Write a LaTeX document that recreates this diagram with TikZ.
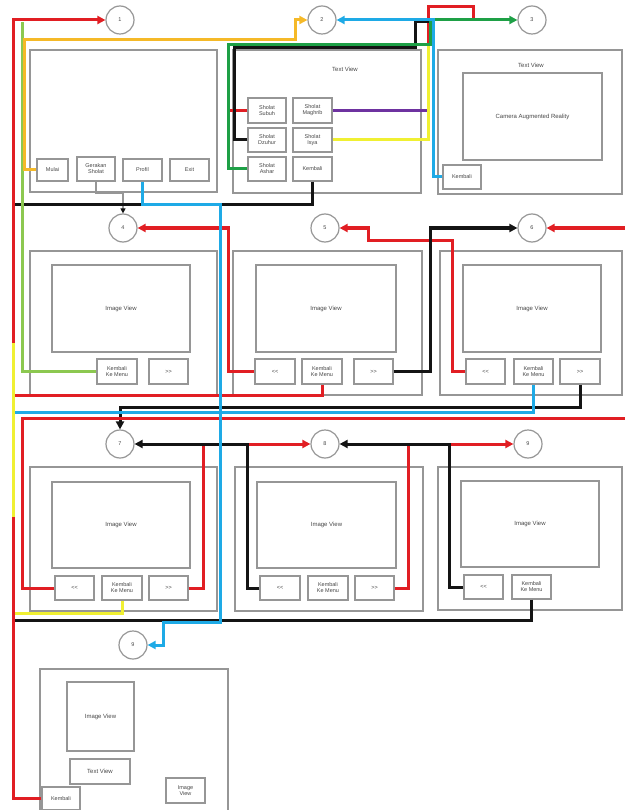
\documentclass[tikz,border=0pt]{standalone}
\usepackage{fontspec}
\setmainfont{Liberation Sans}
\usetikzlibrary{arrows.meta}
\definecolor{boxgray}{RGB}{150,150,150}
\definecolor{txtgray}{RGB}{70,70,70}
\definecolor{cred}{RGB}{225,30,35}
\definecolor{cblack}{RGB}{20,20,20}
\definecolor{cblue}{RGB}{30,170,230}
\definecolor{cgreen}{RGB}{30,160,70}
\definecolor{clgreen}{RGB}{140,200,80}
\definecolor{corange}{RGB}{245,185,40}
\definecolor{cyellow}{RGB}{240,240,50}
\definecolor{cpurple}{RGB}{110,50,160}
\newcommand{\nxt}{{>}{>}}
\newcommand{\prv}{{<}{<}}
\begin{document}
\begin{tikzpicture}[x=1pt,y=-1pt,
 scr/.style={draw=boxgray,line width=1.3pt,inner sep=0pt},
 sz/.style 2 args={minimum width=#1pt,minimum height=#2pt},
 btn/.style={draw=boxgray,line width=1.1pt,inner sep=0pt,align=center,font=\fontsize{5.5}{6}\selectfont,text=txtgray},
 lbl/.style={inner sep=0pt,font=\fontsize{6}{7}\selectfont,text=txtgray},
 circ/.style={circle,draw=boxgray,line width=1.2pt,minimum size=28pt,inner sep=0pt,font=\fontsize{5.5}{6}\selectfont,text=txtgray},
 wire/.style={line width=3pt},
 arr/.style={-{Triangle[length=8pt,width=8pt]}},
]
\useasboundingbox (0,0) rectangle (624,810);
% screens
\node[scr,sz={187}{142}] (s1) at (123.5,121) {};
\node[scr,sz={188}{143}] (s2) at (327,121.5) {};
\node[scr,sz={184}{144}] (s3) at (530,122) {};
\node[scr,sz={187}{144}] (s4) at (123.5,323) {};
\node[scr,sz={189}{144}] (s5) at (327.5,323) {};
\node[scr,sz={182}{144}] (s6) at (531,323) {};
\node[scr,sz={187}{144}] (s7) at (123.5,539) {};
\node[scr,sz={188}{144}] (s8) at (329,539) {};
\node[scr,sz={184}{143}] (s9) at (530,538.5) {};
\node[scr,sz={188}{144}] (s10) at (134,741) {};
% labels
\node[lbl] (tv2) at (345,69) {Text View};
\node[lbl] (tv3) at (531,65) {Text View};
% inner views
\node[btn,sz={139}{87},font=\fontsize{6}{7}\selectfont] (ar3) at (532.5,116.5) {Camera Augmented Reality};
\node[btn,sz={138}{87},font=\fontsize{6}{7}\selectfont] (iv4) at (121,308.5) {Image View};
\node[btn,sz={140}{87},font=\fontsize{6}{7}\selectfont] (iv5) at (326,308.5) {Image View};
\node[btn,sz={138}{87},font=\fontsize{6}{7}\selectfont] (iv6) at (532,308.5) {Image View};
\node[btn,sz={138}{86},font=\fontsize{6}{7}\selectfont] (iv7) at (121,525) {Image View};
\node[btn,sz={139}{86},font=\fontsize{6}{7}\selectfont] (iv8) at (326.5,525) {Image View};
\node[btn,sz={138}{86},font=\fontsize{6}{7}\selectfont] (iv9) at (530,524) {Image View};
\node[btn,sz={67}{69},font=\fontsize{6}{7}\selectfont] (iv10a) at (100.5,716.5) {Image View};
\node[btn,sz={60}{25},font=\fontsize{6}{7}\selectfont] (tv10) at (100,771.5) {Text View};
\node[btn,sz={39}{25}] (iv10b) at (185.5,790.5) {Image\\View};
\node[btn,sz={38}{23}] (k10) at (61,798.5) {Kembali};
% buttons
\node[btn,sz={31}{22}] (mulai) at (52.5,170) {Mulai};
\node[btn,sz={38}{24}] (gerakan) at (96,169) {Gerakan\\Sholat};
\node[btn,sz={39}{22}] (profil) at (142.5,170) {Profil};
\node[btn,sz={39}{22}] (exit) at (189.5,170) {Exit};
\node[btn,sz={38}{25}] (subuh) at (267,110.5) {Sholat\\Subuh};
\node[btn,sz={39}{25}] (maghrib) at (312.5,110.5) {Sholat\\Maghrib};
\node[btn,sz={38}{24}] (dzuhur) at (267,140) {Sholat\\Dzuhur};
\node[btn,sz={39}{24}] (isya) at (312.5,140) {Sholat\\Isya};
\node[btn,sz={38}{24}] (ashar) at (267,169) {Sholat\\Ashar};
\node[btn,sz={39}{24}] (kb2) at (312.5,169) {Kembali};
\node[btn,sz={38}{24}] (kb3) at (462,177) {Kembali};
\node[btn,sz={40}{25}] (k4) at (117,371.5) {Kembali\\Ke Menu};
\node[btn,sz={39}{25}] (n4) at (168.5,371.5) {\nxt};
\node[btn,sz={40}{25}] (p5) at (275,371.5) {\prv};
\node[btn,sz={40}{25}] (k5) at (322,371.5) {Kembali\\Ke Menu};
\node[btn,sz={39}{25}] (n5) at (373.5,371.5) {\nxt};
\node[btn,sz={39}{25}] (p6) at (485.5,371.5) {\prv};
\node[btn,sz={39}{25}] (k6) at (533.5,371.5) {Kembali\\Ke Menu};
\node[btn,sz={40}{25}] (n6) at (580,371.5) {\nxt};
\node[btn,sz={39}{24}] (p7) at (74.5,588) {\prv};
\node[btn,sz={40}{24}] (k7) at (122,588) {Kembali\\Ke Menu};
\node[btn,sz={39}{24}] (n7) at (168.5,588) {\nxt};
\node[btn,sz={40}{24}] (p8) at (280,588) {\prv};
\node[btn,sz={40}{24}] (k8) at (328,588) {Kembali\\Ke Menu};
\node[btn,sz={39}{24}] (n8) at (374.5,588) {\nxt};
\node[btn,sz={39}{24}] (p9) at (483.5,587) {\prv};
\node[btn,sz={39}{24}] (k9) at (531.5,587) {Kembali\\Ke Menu};
% circles
\node[circ] (c1) at (120,20) {1};
\node[circ] (c2) at (322,20) {2};
\node[circ] (c3) at (532,20) {3};
\node[circ] (c4) at (123,228) {4};
\node[circ] (c5) at (325,228) {5};
\node[circ] (c6) at (532,228) {6};
\node[circ] (c7) at (120,444) {7};
\node[circ] (c8) at (325,444) {8};
\node[circ] (c9) at (528,444) {9};
\node[circ] (c9b) at (133,645) {9};
% ---- connectors ----
% Gerakan Sholat -> 4
\draw[line width=1.1pt,draw=boxgray,-{Triangle[length=5pt,width=5pt,color=cblack]}] (gerakan.south) -- (96,193) -- (123,193) -- (c4.north);
% back to menu lines (black)
\draw[wire,cblack] (kb2.south) -- (312.5,205) -- (14,205);
\draw[wire,cblack] (k9.south) -- (531.5,620) -- (13,620);
\draw[wire,cblack,arr] (n6.south) -- (580,407) -- (120,407) -- (c7.north);
% red trunk to 1 (upper part)
\draw[wire,cred,arr] (13,517) -- (13,20) -- (c1.west);
\draw[wire,clgreen] (k4.west) -- (22,371.5) -- (22,22);
\draw[wire,cred] (k5.south) -- (322,395) -- (13,395);
\draw[wire,cblue] (k6.south) -- (533.5,412) -- (15,412);
\draw[wire,cred,arr] (p7.west) -- (22,588) -- (22,418) -- (632,418) -- (632,228) -- (c6.east);
\draw[wire,cyellow] (k7.south) -- (122,613) -- (13,613) -- (13,343);
\draw[wire,cred] (k10.west) -- (13,798.5) -- (13,517);
% Mulai -> 2
\draw[wire,corange,arr] (mulai.west) -- (24,170) -- (24,40) -- (295,40) -- (295,20) -- (c2.west);
% prayer buttons -> 3
\draw[wire,cred] (subuh.west) -- (228,110.5) -- (228,45) -- (428,45) -- (428,7) -- (473,7) -- (473,20);
\draw[wire,cblack] (dzuhur.west) -- (234,140) -- (234,48) -- (415,48) -- (415,22) -- (430,22);
\draw[wire,cpurple] (maghrib.east) -- (428,110.5);
\draw[wire,cyellow] (isya.east) -- (428,140) -- (428,45);
\draw[wire,cgreen,arr] (ashar.west) -- (228,169) -- (228,45) -- (430,45) -- (430,20) -- (c3.west);
\draw[wire,cblue,arr] (kb3.west) -- (433,177) -- (433,20) -- (c2.east);
% row 2
\draw[wire,cred,arr] (p5.west) -- (228,371.5) -- (228,228) -- (c4.east);
\draw[wire,cred,arr] (p6.west) -- (452,371.5) -- (452,240) -- (368,240) -- (368,228) -- (c5.east);
\draw[wire,cblack,arr] (n5.east) -- (430,371.5) -- (430,228) -- (c6.west);
% row 3
\draw[wire,cred,arr] (n7.east) -- (203,588) -- (203,444) -- (c8.west);
\draw[wire,cblack,arr] (p8.west) -- (247,588) -- (247,444) -- (c7.east);
\draw[wire,cred,arr] (n8.east) -- (408,588) -- (408,444) -- (c9.west);
\draw[wire,cblack,arr] (p9.west) -- (449,587) -- (449,444) -- (c8.east);
% Profil -> 9
\draw[wire,cblue,arr] (profil.south) -- (142.5,205) -- (220,205) -- (220,622) -- (163,622) -- (163,645) -- (c9b.east);
\end{tikzpicture}
\end{document}
